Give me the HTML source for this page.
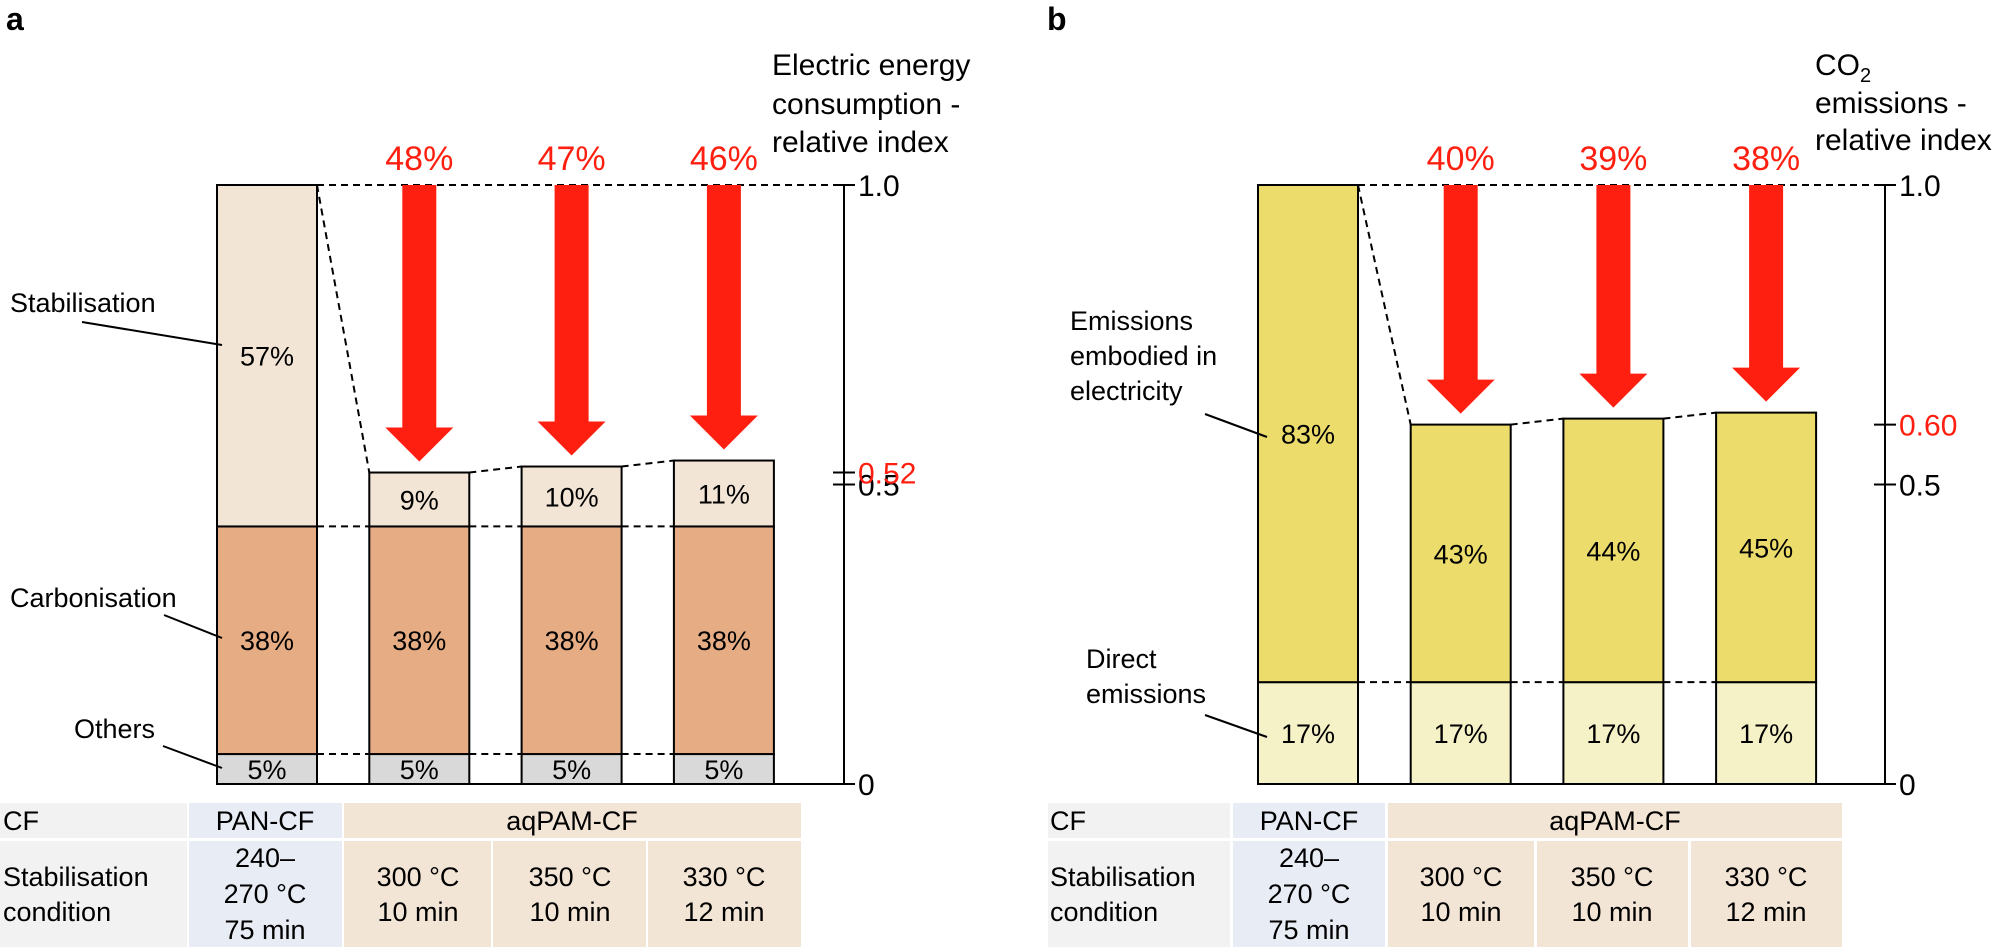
<!DOCTYPE html>
<html><head><meta charset="utf-8">
<style>
html,body{margin:0;padding:0;background:#fff;}
svg{display:block;font-family:"Liberation Sans",Arial,sans-serif;}
</style></head>
<body>
<svg id="chart" width="2000" height="951" viewBox="0 0 2000 951" xmlns="http://www.w3.org/2000/svg">
<g id="panelA"></g>
<g id="panelB"></g>
</svg>
<script>
// ---- data ----
const categories = ["PAN-CF", "aqPAM-CF 300", "aqPAM-CF 350", "aqPAM-CF 330"];
const energyOthers = [0.05, 0.05, 0.05, 0.05];
const energyCarbon = [0.38, 0.38, 0.38, 0.38];
const energyStab = [0.57, 0.09, 0.10, 0.11];
const energyReduction = ["48%", "47%", "46%"];
const co2Direct = [0.17, 0.17, 0.17, 0.17];
const co2Embodied = [0.83, 0.43, 0.44, 0.45];
const co2Reduction = ["40%", "39%", "38%"];
const tickValuesA = [0, 0.5, 1.0];
const tickLabelsA = ["0", "0.5", "1.0"];
const tickValuesB = [0, 0.5, 1.0];
const tickLabelsB = ["0", "0.5", "1.0"];

const NS = "http://www.w3.org/2000/svg";
const RED = "#ff1f10";
const Y0 = 784, Y1 = 185;
function yScale(v){ return Y0 - v*(Y0-Y1); }
function mk(parent, tag, attrs, text){
  const el = document.createElementNS(NS, tag);
  for (const k in attrs) el.setAttribute(k, attrs[k]);
  if (text !== undefined) el.textContent = text;
  parent.appendChild(el);
  return el;
}
function pct(v){ return Math.round(v*100) + "%"; }

function drawPanel(g, cfg){
  const xs = i => cfg.x0 + i*cfg.step;
  const W = 100;
  const segs = cfg.segs;
  const totals = categories.map((c,i)=>segs.reduce((s,sg)=>s+sg.vals[i],0));
  let d = mk(g,"line",{x1:xs(0)+W,y1:yScale(totals[0]),x2:cfg.axisX,y2:yScale(totals[0]),stroke:"#000","stroke-width":2,"stroke-dasharray":"7,5"});
  
  
  for (let i=0;i<categories.length-1;i++){
    d = mk(g,"line",{x1:xs(i)+W,y1:yScale(totals[i]),x2:xs(i+1),y2:yScale(totals[i+1]),stroke:"#000","stroke-width":2,"stroke-dasharray":"7,5"});
    
    
    let cum = 0;
    for (let s=0;s<segs.length-1;s++){
      cum += segs[s].vals[i];
      const cum2 = segs.slice(0,s+1).reduce((a,sg)=>a+sg.vals[i+1],0);
      d = mk(g,"line",{x1:xs(i)+W,y1:yScale(cum),x2:xs(i+1),y2:yScale(cum2),stroke:"#000","stroke-width":2,"stroke-dasharray":"7,5"});
      
      
    }
  }
  categories.forEach((c,i)=>{
    let cum = 0;
    segs.forEach(sg=>{
      const v = sg.vals[i];
      const yt = yScale(cum+v), yb = yScale(cum);
      const r = mk(g,"rect",{x:xs(i),y:yt,width:W,height:yb-yt,fill:sg.color,stroke:"#000","stroke-width":2});
      
      
      const t = mk(g,"text",{x:xs(i)+W/2,y:(yt+yb)/2+10,"text-anchor":"middle","font-size":27,fill:"#000"},pct(v));
      
      
      cum += v;
    });
  });
  for (let i=1;i<categories.length;i++){
    const cx = xs(i)+W/2, top = yScale(totals[i]);
    const tip = top-11, hd = tip-34;
    const p = mk(g,"polygon",{points:`${cx-17},${Y1} ${cx+17},${Y1} ${cx+17},${hd} ${cx+34},${hd} ${cx},${tip} ${cx-34},${hd} ${cx-17},${hd}`,fill:RED});
    
    
    const t = mk(g,"text",{x:cx,y:170,"text-anchor":"middle","font-size":34,fill:RED},cfg.reduction[i-1]);
    
    
  }
  let l = mk(g,"line",{x1:xs(0),y1:Y0,x2:cfg.axisX,y2:Y0,stroke:"#000","stroke-width":2});
  
  
  l = mk(g,"line",{x1:cfg.axisX,y1:Y1,x2:cfg.axisX,y2:Y0,stroke:"#000","stroke-width":2});
  
  
  cfg.ticks.forEach((v,k)=>{
    const tk = mk(g,"line",{x1:cfg.axisX-11,y1:yScale(v),x2:cfg.axisX+11,y2:yScale(v),stroke:"#000","stroke-width":2});
    
    
    const tl = mk(g,"text",{x:cfg.axisX+14,y:yScale(v)+11,"font-size":30,fill:"#000"},cfg.tickLabels[k]);
    
    
  });
  const hv = totals[1];
  const tk = mk(g,"line",{x1:cfg.axisX-11,y1:yScale(hv),x2:cfg.axisX+11,y2:yScale(hv),stroke:"#000","stroke-width":2});
  
  
  const ht = mk(g,"text",{x:cfg.axisX+14,y:yScale(hv)+11,"font-size":30,fill:RED},hv.toFixed(2));
  
  
}

const gA = document.getElementById('panelA');
drawPanel(gA,{x0:217,step:152.3,axisX:844,reduction:energyReduction,ticks:tickValuesA,tickLabels:tickLabelsA,
  segs:[{name:'others',vals:energyOthers,color:'#d9d9d9'},{name:'carbonisation',vals:energyCarbon,color:'#e6ac84'},{name:'stabilisation',vals:energyStab,color:'#f3e5d5'}]});
const gB = document.getElementById('panelB');
drawPanel(gB,{x0:1258,step:152.7,axisX:1885,reduction:co2Reduction,ticks:tickValuesB,tickLabels:tickLabelsB,
  segs:[{name:'direct',vals:co2Direct,color:'#f6f2c8'},{name:'embodied',vals:co2Embodied,color:'#ecdc6c'}]});
</script>
<svg style="position:absolute;left:0;top:0" width="2000" height="951">
  <g font-family="Liberation Sans, Arial, sans-serif" fill="#000">
    <text x="6" y="30" font-size="32" font-weight="bold">a</text>
    <text x="1047" y="30" font-size="32" font-weight="bold">b</text>
    <text font-size="30"><tspan x="772" y="75">Electric energy</tspan><tspan x="772" y="114">consumption -</tspan><tspan x="772" y="152">relative index</tspan></text>
    <text font-size="30"><tspan x="1815" y="75">CO<tspan font-size="20" dy="7">2</tspan></tspan><tspan x="1815" y="113">emissions -</tspan><tspan x="1815" y="150">relative index</tspan></text>
    <text x="10" y="312" font-size="27">Stabilisation</text>
    <line x1="82" y1="322" x2="222" y2="345" stroke="#000" stroke-width="2"/>
    <text x="10" y="607" font-size="27">Carbonisation</text>
    <line x1="164" y1="615" x2="222" y2="638" stroke="#000" stroke-width="2"/>
    <text x="74" y="738" font-size="27">Others</text>
    <line x1="163" y1="746" x2="222" y2="768" stroke="#000" stroke-width="2"/>
    <text font-size="27"><tspan x="1070" y="330">Emissions</tspan><tspan x="1070" y="365">embodied in</tspan><tspan x="1070" y="400">electricity</tspan></text>
    <line x1="1205" y1="414" x2="1267" y2="437" stroke="#000" stroke-width="2"/>
    <text font-size="27"><tspan x="1086" y="668">Direct</tspan><tspan x="1086" y="703">emissions</tspan></text>
    <line x1="1205" y1="715" x2="1267" y2="737" stroke="#000" stroke-width="2"/>
  </g>
  <g font-family="Liberation Sans, Arial, sans-serif" font-size="27" fill="#000">
    <rect x="0" y="803" width="187" height="35" fill="#f2f2f2"/>
    <rect x="0" y="841" width="187" height="106" fill="#f2f2f2"/>
    <rect x="189" y="803" width="153" height="35" fill="#e8ecf5"/>
    <rect x="189" y="841" width="153" height="106" fill="#e8ecf5"/>
    <rect x="344" y="803" width="457" height="35" fill="#f3e5d5"/>
    <rect x="344" y="841" width="147" height="106" fill="#f3e5d5"/>
    <rect x="493" y="841" width="153" height="106" fill="#f3e5d5"/>
    <rect x="648" y="841" width="153" height="106" fill="#f3e5d5"/>
    <text x="3" y="830">CF</text>
    <text x="265" y="830" text-anchor="middle">PAN-CF</text>
    <text x="572" y="830" text-anchor="middle">aqPAM-CF</text>
    <text x="3" y="886">Stabilisation</text><text x="3" y="921">condition</text>
    <text x="265" y="867" text-anchor="middle">240–</text><text x="265" y="903" text-anchor="middle">270 °C</text><text x="265" y="939" text-anchor="middle">75 min</text>
    <text x="418" y="886" text-anchor="middle">300 °C</text><text x="418" y="921" text-anchor="middle">10 min</text>
    <text x="570" y="886" text-anchor="middle">350 °C</text><text x="570" y="921" text-anchor="middle">10 min</text>
    <text x="724" y="886" text-anchor="middle">330 °C</text><text x="724" y="921" text-anchor="middle">12 min</text>
  </g>
  <g font-family="Liberation Sans, Arial, sans-serif" font-size="27" fill="#000">
    <rect x="1048" y="803" width="182" height="35" fill="#f2f2f2"/>
    <rect x="1048" y="841" width="182" height="106" fill="#f2f2f2"/>
    <rect x="1233" y="803" width="152" height="35" fill="#e8ecf5"/>
    <rect x="1233" y="841" width="152" height="106" fill="#e8ecf5"/>
    <rect x="1388" y="803" width="454" height="35" fill="#f3e5d5"/>
    <rect x="1388" y="841" width="146" height="106" fill="#f3e5d5"/>
    <rect x="1537" y="841" width="151" height="106" fill="#f3e5d5"/>
    <rect x="1691" y="841" width="151" height="106" fill="#f3e5d5"/>
    <text x="1050" y="830">CF</text>
    <text x="1309" y="830" text-anchor="middle">PAN-CF</text>
    <text x="1615" y="830" text-anchor="middle">aqPAM-CF</text>
    <text x="1050" y="886">Stabilisation</text><text x="1050" y="921">condition</text>
    <text x="1309" y="867" text-anchor="middle">240–</text><text x="1309" y="903" text-anchor="middle">270 °C</text><text x="1309" y="939" text-anchor="middle">75 min</text>
    <text x="1461" y="886" text-anchor="middle">300 °C</text><text x="1461" y="921" text-anchor="middle">10 min</text>
    <text x="1612" y="886" text-anchor="middle">350 °C</text><text x="1612" y="921" text-anchor="middle">10 min</text>
    <text x="1766" y="886" text-anchor="middle">330 °C</text><text x="1766" y="921" text-anchor="middle">12 min</text>
  </g>
</svg>
</body></html>
